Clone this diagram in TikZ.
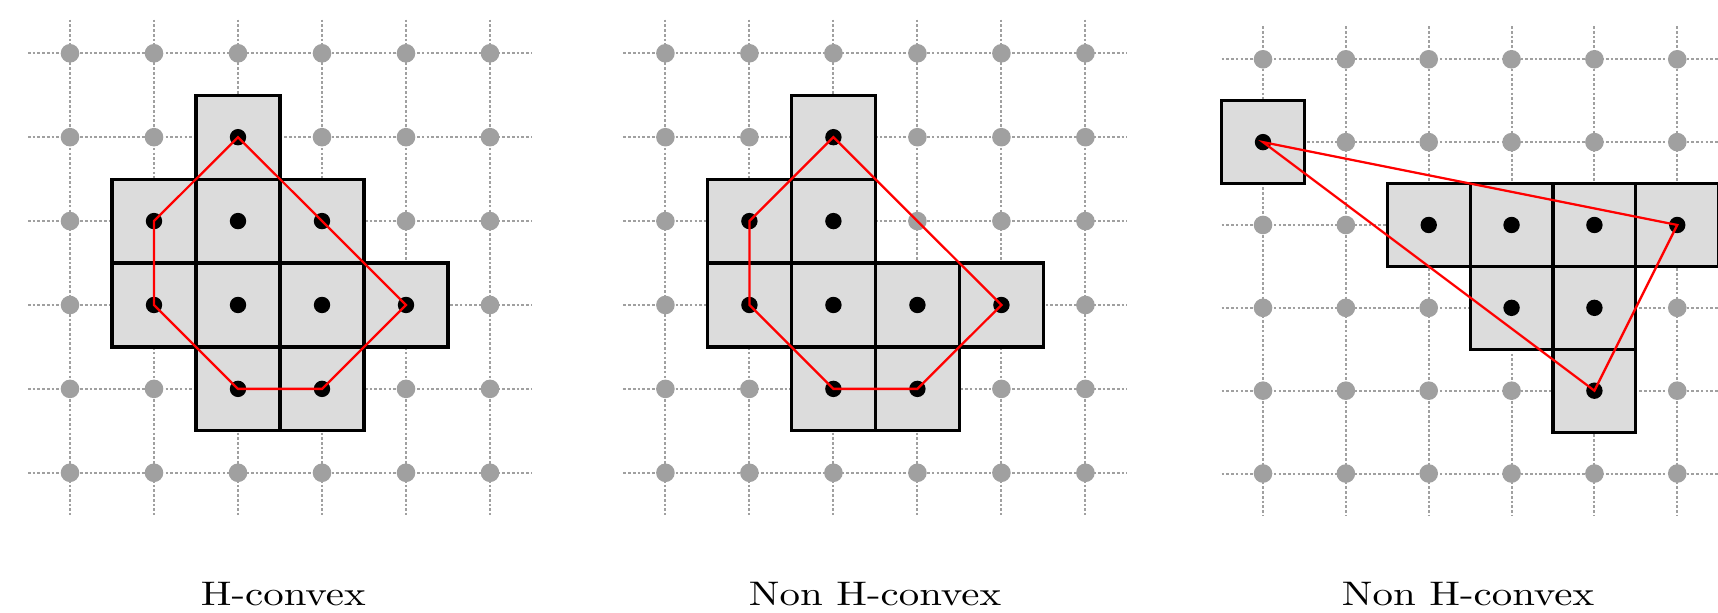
\documentclass[tikz,border=0pt]{standalone}
\usepackage{xcolor}
\usepackage{tikz}
\definecolor{HGrey}{HTML}{A0A0A0}
\definecolor{HCell}{HTML}{DCDCDC}
\definecolor{HRed}{HTML}{FF0000}
\tikzset{
  gridline/.style={draw=HGrey,line width=0.57pt,dash pattern=on 0.75pt off 0.6pt},
  cellbox/.style={draw=black,fill=HCell,line width=0.9pt},
  blackpt/.style={circle,fill=black,inner sep=0pt,minimum size=0.164cm},
  hull/.style={draw=HRed,line width=0.65pt},
  caption/.style={anchor=base,font=\fontsize{9.7}{11}\selectfont,xscale=1.2,transform shape}
}

\begin{document}
\begin{tikzpicture}[x=1cm,y=1cm]
\path[use as bounding box] (0,0) rectangle (17.18,6.13);
% H-convex
\begin{scope}[shift={(0.70,5.597)},x=0.84cm,y=-0.839cm]
\foreach \i in {0,...,5} \draw[gridline] (\i,-0.4) -- (\i,5.5);
\foreach \j in {0,...,5} \draw[gridline] (-0.5,\j) -- (5.5,\j);
\foreach \i in {0,...,5} \foreach \j in {0,...,5} \fill[HGrey] (\i,\j) circle[radius=0.093cm];
\foreach \i/\j in {2/1,1/2,2/2,3/2,1/3,2/3,3/3,4/3,2/4,3/4}{
  \filldraw[cellbox] (\i-0.5,\j-0.5) rectangle (\i+0.5,\j+0.5);
  \node[blackpt] (a\i\j) at (\i,\j) {};
}
\draw[hull] (a21.center) -- (a43.center) -- (a34.center) -- (a24.center) -- (a13.center) -- (a12.center) -- cycle;
\end{scope}
% Non H-convex
\begin{scope}[shift={(6.654,5.597)},x=0.84cm,y=-0.839cm]
\foreach \i in {0,...,5} \draw[gridline] (\i,-0.4) -- (\i,5.5);
\foreach \j in {0,...,5} \draw[gridline] (-0.5,\j) -- (5.5,\j);
\foreach \i in {0,...,5} \foreach \j in {0,...,5} \fill[HGrey] (\i,\j) circle[radius=0.093cm];
\foreach \i/\j in {2/1,1/2,2/2,1/3,2/3,3/3,4/3,2/4,3/4}{
  \filldraw[cellbox] (\i-0.5,\j-0.5) rectangle (\i+0.5,\j+0.5);
  \node[blackpt] (b\i\j) at (\i,\j) {};
}
\draw[hull] (b21.center) -- (b43.center) -- (b34.center) -- (b24.center) -- (b13.center) -- (b12.center) -- cycle;
\end{scope}
% Non H-convex, split set
\begin{scope}[shift={(12.63,5.537)},x=0.8285cm,y=-0.8285cm]
\foreach \i in {0,...,5} \draw[gridline] (\i,-0.4) -- (\i,5.5);
\foreach \j in {0,...,5} \draw[gridline] (-0.5,\j) -- (5.5,\j);
\foreach \i in {0,...,5} \foreach \j in {0,...,5} \fill[HGrey] (\i,\j) circle[radius=0.093cm];
\foreach \i/\j in {0/1,2/2,3/2,4/2,5/2,3/3,4/3,4/4}{
  \filldraw[cellbox] (\i-0.5,\j-0.5) rectangle (\i+0.5,\j+0.5);
  \node[blackpt] (c\i\j) at (\i,\j) {};
}
\draw[hull] (c01.center) -- (c52.center) -- (c44.center) -- cycle;
\end{scope}
\node[caption] (lab1) at (2.833,0.07) {H-convex};
\node[caption] (lab2) at (8.75,0.07) {Non H-convex};
\node[caption] (lab3) at (14.68,0.07) {Non H-convex};
\end{tikzpicture}
\end{document}
